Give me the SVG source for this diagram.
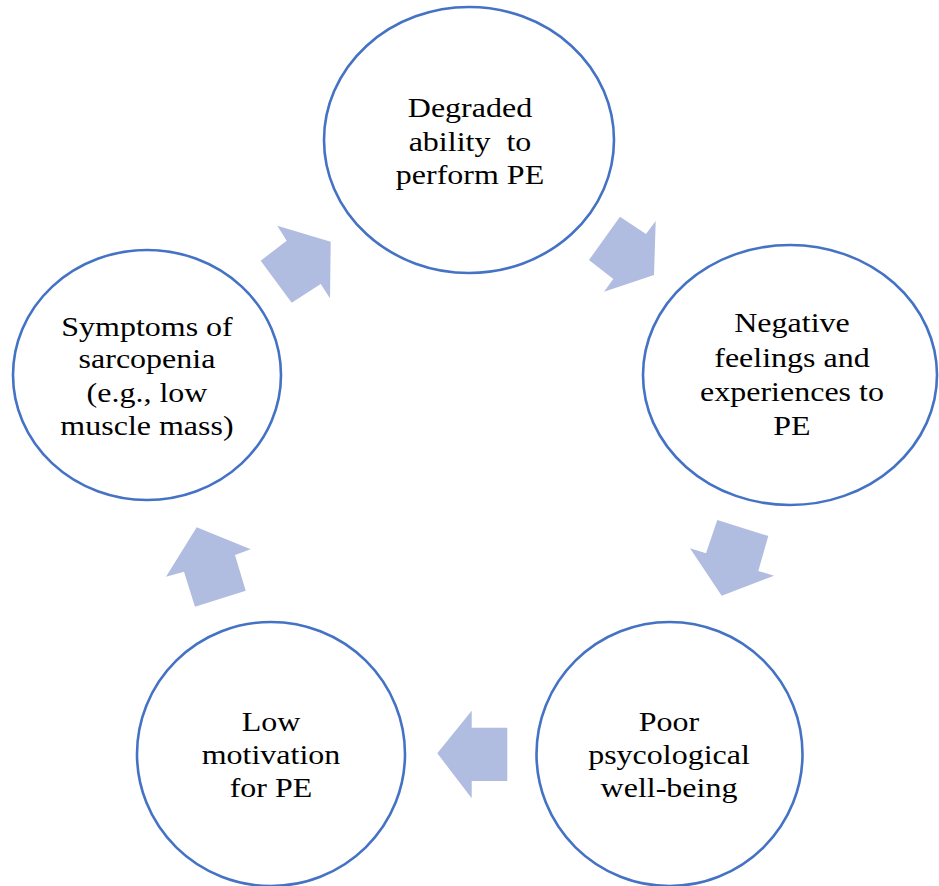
<svg xmlns="http://www.w3.org/2000/svg" width="939" height="886" viewBox="0 0 939 886">
<style>
.node ellipse{fill:#fff;stroke:#4472C4;stroke-width:2.6}
.node text{font-family:"Liberation Serif","Times New Roman",serif;font-size:32px;fill:#000;text-anchor:middle;white-space:pre}
.arrow{fill:#B0BDE0}
</style>
<rect width="939" height="886" fill="#fff"/>
<g id="connectors">
<polygon class="arrow" points="260.7,260.7 286.7,240.7 277.3,225.7 330.7,241.7 330,298.3 320.7,284 291.7,302.7"/>
<polygon class="arrow" points="620,216.7 646,234 655.7,221 654,275 604,291.7 613.3,279 589,260"/>
<polygon class="arrow" points="717.3,520 768.3,536 758.3,571 774,575.7 721.7,595.7 690,548.3 706,553.3"/>
<polygon class="arrow" points="437.3,753.3 471.7,710.7 471.7,727.7 507.3,727.7 507.3,781 471.7,781 471.7,798.3"/>
<polygon class="arrow" points="196.7,527.3 250.7,549.3 235,555 245.7,590.7 195,606.7 184,571.7 166,576.7"/>
</g>
<g id="n-degraded" class="node">
<ellipse cx="469" cy="140" rx="145" ry="133"/>
<text transform="matrix(1 0 0 0.85 0 0)"><tspan x="470" y="137.6">Degraded</tspan><tspan x="470" y="177.6">ability  to</tspan><tspan x="470" y="216.5">perform PE</tspan></text>
</g>
<g id="n-negative" class="node">
<ellipse cx="790" cy="375" rx="147" ry="130"/>
<text transform="matrix(1 0 0 0.85 0 0)"><tspan x="792" y="390.6">Negative</tspan><tspan x="792" y="431.8">feelings and</tspan><tspan x="792" y="471.8">experiences to</tspan><tspan x="792" y="511.8">PE</tspan></text>
</g>
<g id="n-poor" class="node">
<ellipse cx="669.5" cy="754" rx="133" ry="132"/>
<text transform="matrix(1 0 0 0.85 0 0)"><tspan x="669" y="860">Poor</tspan><tspan x="669" y="898.8">psycological</tspan><tspan x="669" y="937.6">well-being</tspan></text>
</g>
<g id="n-low" class="node">
<ellipse cx="271" cy="754" rx="134" ry="132"/>
<text transform="matrix(1 0 0 0.85 0 0)"><tspan x="271" y="860">Low</tspan><tspan x="271" y="898.8">motivation</tspan><tspan x="271" y="937.6">for PE</tspan></text>
</g>
<g id="n-symptoms" class="node">
<ellipse cx="147" cy="375" rx="134" ry="125"/>
<text transform="matrix(1 0 0 0.85 0 0)"><tspan x="147" y="395.3">Symptoms of</tspan><tspan x="147" y="433.3">sarcopenia</tspan><tspan x="147" y="472.5">(e.g., low</tspan><tspan x="147" y="511.8">muscle mass)</tspan></text>
</g>
</svg>
